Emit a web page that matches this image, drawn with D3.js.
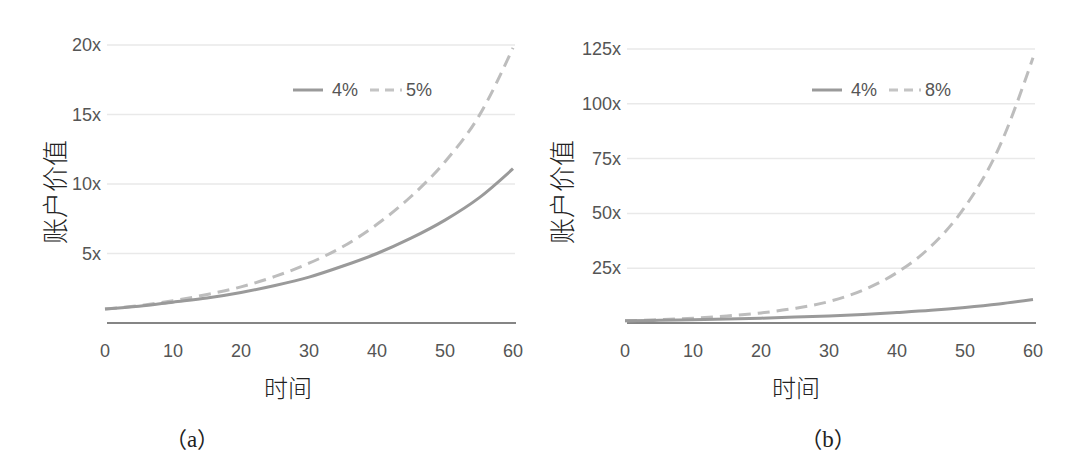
<!DOCTYPE html>
<html lang="zh">
<head>
  <meta charset="UTF-8">
  <title>账户价值 vs 时间</title>
  <script src="https://d3js.org/d3.v7.min.js"></script>
  <style>
    body {
      margin: 0;
      background: #fff;
    }
    .tick-label {
      font-family: "Liberation Sans", Arial, sans-serif;
      font-size: 18px;
      fill: #555;
    }
    .axis-title {
      font-family: "Noto Sans CJK SC", sans-serif;
      font-size: 24px;
      font-weight: 300;
      fill: #222;
    }
    .caption {
      font-family: "Noto Sans CJK SC", sans-serif;
      font-size: 22px;
      fill: #222;
    }
    .caption-letter {
      font-family: "Liberation Serif", serif;
      font-size: 23px;
    }
  </style>
</head>
<body>
  <svg width="1080" height="471"></svg>
  <script>
    // years on the x axis
    const years = [0, 5, 10, 15, 20, 25, 30, 35, 40, 45, 50, 55, 60];

    // panel (a)
    const leftFour = [1.0, 1.2, 1.5, 1.8, 2.2, 2.7, 3.3, 4.1, 5.0, 6.1, 7.4, 9.0, 11.1];
    const leftFive = [1.0, 1.25, 1.6, 2.05, 2.6, 3.35, 4.3, 5.5, 7.1, 9.1, 11.6, 14.9, 19.8];
    const leftTicks = [5, 10, 15, 20];

    // panel (b)
    const rightFour = [1.0, 1.2, 1.5, 1.8, 2.2, 2.7, 3.2, 3.9, 4.8, 5.8, 7.1, 8.7, 10.7];
    const rightEight = [1.0, 1.5, 2.2, 3.2, 4.6, 6.7, 9.8, 15, 23, 35, 53, 80, 121];
    const rightTicks = [25, 50, 75, 100, 125];

    const xTicks = [0, 10, 20, 30, 40, 50, 60];

    const svg = d3.select("svg");

    function drawPanel(opts) {
      const g = svg.append("g");
      const x = d3.scaleLinear().domain([0, 60]).range([opts.x0, opts.x1]);
      const y = d3.scaleLinear().domain([0, opts.yMax]).range([323, opts.yTop]);

      // gridlines
      g.selectAll(".grid")
        .data(opts.yTicks)
        .enter()
        .append("line")
        .attr("x1", opts.x0 + 2)
        .attr("x2", opts.x1 + 2)
        .attr("y1", d => y(d))
        .attr("y2", d => y(d))
        .attr("stroke", "#e9e9e9")
        .attr("stroke-width", 1.5);

      // y tick labels
      g.selectAll(".ylab")
        .data(opts.yTicks)
        .enter()
        .append("text")
        .attr("class", "tick-label")
        .attr("x", opts.x0 - 4)
        .attr("y", d => y(d) + 6)
        .attr("text-anchor", "end")
        .text(d => d + "x");

      // x tick labels
      g.selectAll(".xlab")
        .data(xTicks)
        .enter()
        .append("text")
        .attr("class", "tick-label")
        .attr("x", d => x(d))
        .attr("y", 357)
        .attr("text-anchor", "middle")
        .text(d => d);

      // baseline
      g.append("line")
        .attr("x1", opts.x0 + 2)
        .attr("x2", opts.x1 + 3)
        .attr("y1", y(0))
        .attr("y2", y(0))
        .attr("stroke", "#858585")
        .attr("stroke-width", 2);

      const line = d3.line()
        .x((d, i) => x(years[i]))
        .y(d => y(d))
        .curve(d3.curveMonotoneX);

      // dashed series first, solid over it
      g.append("path")
        .datum(opts.dashed)
        .attr("d", line)
        .attr("fill", "none")
        .attr("stroke", "#bdbdbd")
        .attr("stroke-width", 3)
        .attr("stroke-dasharray", "12,7");

      g.append("path")
        .datum(opts.solid)
        .attr("d", line)
        .attr("fill", "none")
        .attr("stroke", "#9a9a9a")
        .attr("stroke-width", 3);

      // legend
      const lx = opts.legendX;
      g.append("line")
        .attr("x1", lx).attr("x2", lx + 30)
        .attr("y1", 90).attr("y2", 90)
        .attr("stroke", "#9a9a9a").attr("stroke-width", 3);
      g.append("text")
        .attr("class", "tick-label")
        .attr("x", lx + 39).attr("y", 96)
        .text(opts.solidName);
      g.append("line")
        .attr("x1", lx + 77).attr("x2", lx + 109)
        .attr("y1", 90).attr("y2", 90)
        .attr("stroke", "#c4c4c4").attr("stroke-width", 3)
        .attr("stroke-dasharray", "9,6");
      g.append("text")
        .attr("class", "tick-label")
        .attr("x", lx + 113).attr("y", 96)
        .text(opts.dashedName);

      // axis titles
      g.append("text")
        .attr("class", "axis-title")
        .attr("x", opts.timeX)
        .attr("y", 397)
        .attr("text-anchor", "middle")
        .text("时间");

      g.append("text")
        .attr("class", "axis-title")
        .attr("transform", `translate(${opts.titleX},192) rotate(-90)`)
        .attr("text-anchor", "middle")
        .style("font-size", "26px")
        .text("账户价值");

      const cap = g.append("text")
        .attr("class", "caption")
        .attr("x", opts.captionX)
        .attr("y", 447)
        .attr("text-anchor", "middle");
      cap.append("tspan").text("（");
      cap.append("tspan").attr("class", "caption-letter").text(opts.caption);
      cap.append("tspan").text("）");
    }

    drawPanel({
      x0: 105, x1: 513, yMax: 20, yTop: 45, yTicks: leftTicks,
      solid: leftFour, dashed: leftFive, solidName: "4%", dashedName: "5%",
      legendX: 293, titleX: 65, timeX: 288, captionX: 192, caption: "a"
    });

    drawPanel({
      x0: 625, x1: 1033, yMax: 125, yTop: 49, yTicks: rightTicks,
      solid: rightFour, dashed: rightEight, solidName: "4%", dashedName: "8%",
      legendX: 812, titleX: 572, timeX: 796, captionX: 828, caption: "b"
    });
  </script>
</body>
</html>
